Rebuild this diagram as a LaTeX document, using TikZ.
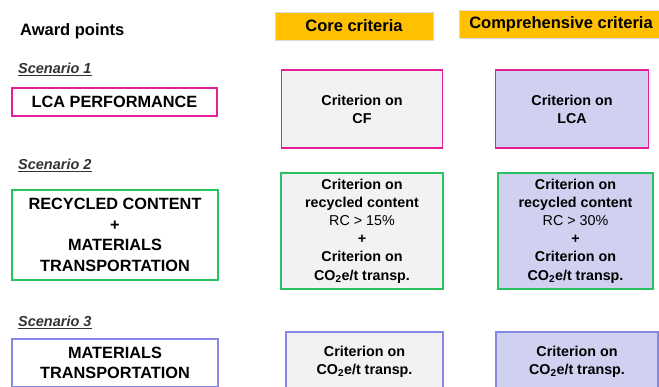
\documentclass[tikz,border=0pt]{standalone}
\usepackage{fontspec}
\setmainfont{Liberation Sans}
\definecolor{hdr}{RGB}{255,192,0}
\definecolor{mag}{RGB}{228,30,150}
\definecolor{grn}{RGB}{40,195,95}
\definecolor{pur}{RGB}{135,135,232}
\definecolor{lgray}{RGB}{242,242,242}
\definecolor{lav}{RGB}{208,208,240}
\tikzset{
  head/.style={fill=hdr, draw=black!15, line width=0.6pt, inner sep=0pt, minimum height=28pt,
    font=\bfseries\fontsize{16.5pt}{20pt}\selectfont},
  scen/.style={anchor=west, inner sep=0pt, font=\bfseries\itshape\fontsize{14.5pt}{17pt}\selectfont, text=black!80},
  lbox/.style={draw, line width=1.8pt, fill=white, align=center, inner sep=0pt,
    font=\bfseries\fontsize{16.3pt}{20.5pt}\selectfont},
  cbox/.style={draw, line width=1.5pt, align=center, inner sep=0pt,
    font=\bfseries\fontsize{14.3pt}{18.2pt}\selectfont},
}
\begin{document}
\begin{tikzpicture}[x=1pt, y=-1pt]
\clip (0,0) rectangle (659,387);
\fill[white] (0,0) rectangle (659,387);
% headers
\node[anchor=west, inner sep=0pt, font=\bfseries\fontsize{16.5pt}{20pt}\selectfont] (award) at (20,31) {Award points};
\node[head, minimum width=158pt] (hcore) at (354,26) {Core criteria};
\node[head, minimum width=204pt] (hcomp) at (561,24) {Comprehensive criteria};
% scenario 1
\node[scen] (s1) at (18,69) {\underline{Scenario 1}};
\node[lbox, draw=mag, minimum width=205pt, minimum height=28pt] (b1) at (114.5,102) {LCA PERFORMANCE};
\node[cbox, draw=mag, fill=lgray, minimum width=161pt, minimum height=78pt] (c1) at (362,109) {Criterion on\\CF};
\node[cbox, draw=mag, fill=lav, minimum width=153pt, minimum height=78pt] (p1) at (572,109) {Criterion on\\LCA};
% scenario 2
\node[scen] (s2) at (18,165) {\underline{Scenario 2}};
\node[lbox, draw=grn, minimum width=206pt, minimum height=90pt] (b2) at (115,235) {RECYCLED CONTENT\\+\\MATERIALS\\TRANSPORTATION};
\node[cbox, draw=grn, fill=lgray, minimum width=162pt, minimum height=116pt] (c2) at (362,231)
  {Criterion on\\recycled content\\{\mdseries RC > 15\%}\\+\\Criterion on\\CO\textsubscript{2}e/t transp.};
\node[cbox, draw=grn, fill=lav, minimum width=155pt, minimum height=116pt] (p2) at (575.5,231)
  {Criterion on\\recycled content\\{\mdseries RC > 30\%}\\+\\Criterion on\\CO\textsubscript{2}e/t transp.};
% scenario 3
\node[scen] (s3) at (18,322) {\underline{Scenario 3}};
\node[lbox, draw=pur, minimum width=206pt, minimum height=48pt] (b3) at (115,363) {MATERIALS\\TRANSPORTATION};
\node[cbox, draw=pur, fill=lgray, minimum width=157pt, minimum height=60pt] (c3) at (364.5,362) {Criterion on\\CO\textsubscript{2}e/t transp.};
\node[cbox, draw=pur, fill=lav, minimum width=162pt, minimum height=60pt] (p3) at (577,362) {Criterion on\\CO\textsubscript{2}e/t transp.};
\end{tikzpicture}
\end{document}
